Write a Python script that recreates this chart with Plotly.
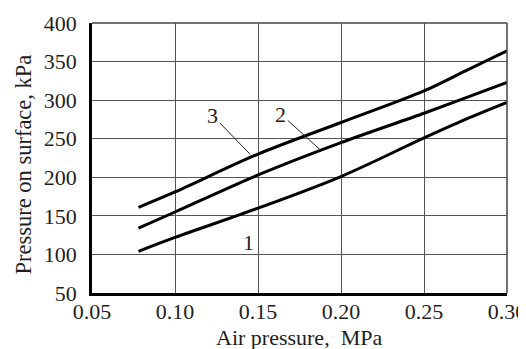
import plotly.graph_objects as go

air_pressure = [0.078, 0.10, 0.15, 0.20, 0.25, 0.275, 0.30]
curve1 = [104, 122, 160, 201, 251, 275, 297]
curve2 = [134, 155, 203, 245, 283, 303, 323]
curve3 = [161, 181, 230, 271, 312, 338, 364]

x_ticks = [0.05, 0.10, 0.15, 0.20, 0.25, 0.30]
x_tick_labels = ["0.05", "0.10", "0.15", "0.20", "0.25", "0.30"]
y_ticks = [50, 100, 150, 200, 250, 300, 350, 400]

labels = ["1", "2", "3"]
label_pts = [(0.1402, 121), (0.1873, 236), (0.1452, 230)]
label_txt = [(0.1445, 116), (0.1637, 282), (0.1227, 280)]

x_title = "Air pressure,&nbsp; MPa"
y_title = "Pressure on surface, kPa"

FONT = "Liberation Serif, Times New Roman, serif"
FS = 22
TXT = "#1e1e1e"

fig = go.Figure()
for ys in (curve1, curve2, curve3):
    fig.add_trace(go.Scatter(x=air_pressure, y=ys, mode="lines",
                             line=dict(color="black", width=3, shape="spline", smoothing=0.9),
                             showlegend=False, hoverinfo="skip"))

for lab, (px, py), (tx, ty) in zip(labels, label_pts, label_txt):
    fig.add_annotation(x=px, y=py, ax=tx, ay=ty, axref="x", ayref="y", xref="x", yref="y",
                       text=lab, showarrow=True, arrowhead=0, arrowwidth=1, arrowcolor="#222",
                       font=dict(family=FONT, size=FS, color=TXT))

# axis titles as annotations for exact placement
fig.add_annotation(xref="paper", yref="paper", x=0.499, y=-0.163, text=x_title,
                   showarrow=False, xanchor="center", yanchor="middle",
                   font=dict(family=FONT, size=FS, color=TXT))
fig.add_annotation(xref="paper", yref="paper", x=-0.166, y=0.476, text=y_title,
                   textangle=-90, showarrow=False, xanchor="center", yanchor="middle",
                   font=dict(family=FONT, size=22.5, color=TXT))

# top and right frame edges
fig.add_shape(type="line", xref="paper", yref="paper", x0=0, x1=1, y0=1, y1=1,
              line=dict(color="#444", width=1.5))
fig.add_shape(type="line", xref="paper", yref="paper", x0=1, x1=1, y0=0, y1=1,
              line=dict(color="#444", width=1.5))

fig.update_xaxes(range=[0.05, 0.30], tickvals=x_ticks, ticktext=x_tick_labels,
                 showgrid=True, gridcolor="#555", gridwidth=1, automargin=False,
                 showline=True, linecolor="black", linewidth=2.5, ticks="",
                 zeroline=False, ticklabelstandoff=-3, ticklabeloverflow="allow",
                 tickfont=dict(family=FONT, size=FS, color=TXT))
fig.update_yaxes(range=[50, 400], tickvals=y_ticks,
                 showgrid=True, gridcolor="#555", gridwidth=1, automargin=False,
                 showline=True, linecolor="black", linewidth=2.5, ticks="",
                 zeroline=False, ticklabelstandoff=8, ticklabeloverflow="allow",
                 tickfont=dict(family=FONT, size=FS, color=TXT))

# page body has an 8px margin, so the figure is offset by 8px
fig.update_layout(width=518, height=341, plot_bgcolor="white", paper_bgcolor="white",
                  margin=dict(l=84, r=19, t=15, b=56))

fig.write_html("out.html")
